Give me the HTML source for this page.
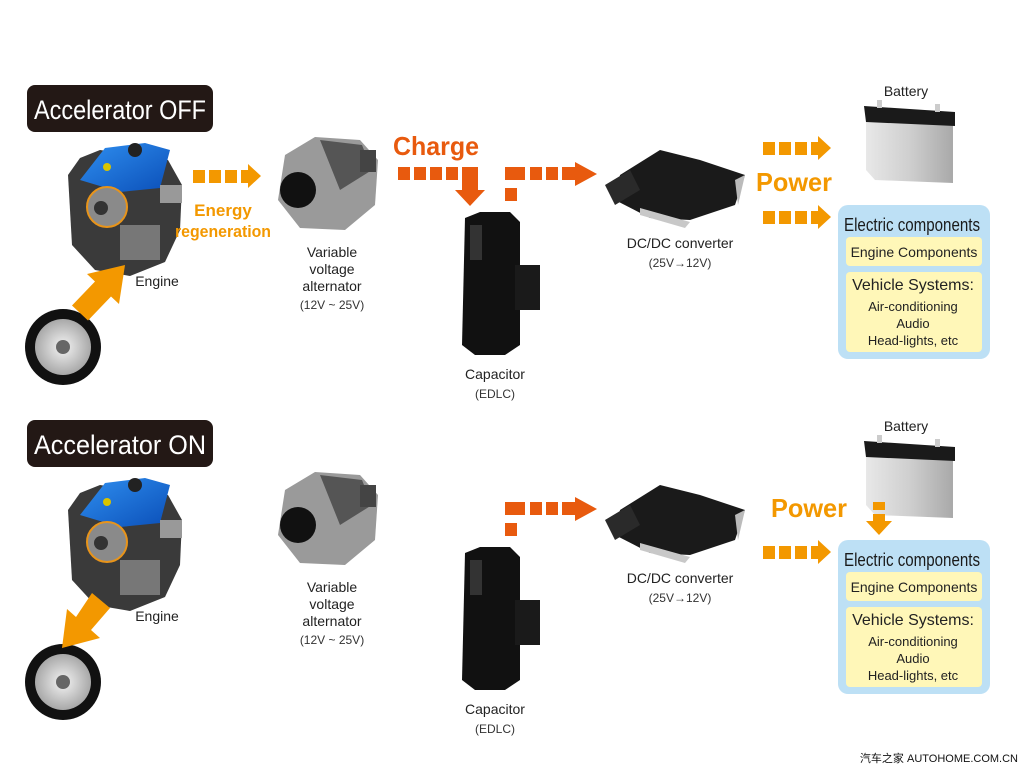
<!DOCTYPE html>
<html><head><meta charset="utf-8"><style>
html,body{margin:0;padding:0;background:#fff;width:1024px;height:768px;overflow:hidden}
svg{display:block}
text{font-family:"Liberation Sans","Noto Sans CJK SC",sans-serif}
</style></head><body>
<svg width="1024" height="768" viewBox="0 0 1024 768" xmlns="http://www.w3.org/2000/svg">
<defs>
<linearGradient id="blue" x1="0" y1="0" x2="1" y2="1"><stop offset="0" stop-color="#2f8ff0"/><stop offset="1" stop-color="#0b4fb8"/></linearGradient>
<linearGradient id="bat" x1="0" y1="0" x2="1" y2="0"><stop offset="0" stop-color="#e8e8e8"/><stop offset="0.5" stop-color="#cfcfcf"/><stop offset="1" stop-color="#a9a9a9"/></linearGradient>
<radialGradient id="rim"><stop offset="0" stop-color="#f4f4f4"/><stop offset="1" stop-color="#a8a8a8"/></radialGradient>
<g id="engine">
 <path d="M68 175 L80 158 L100 150 L168 160 L182 185 L180 230 L165 262 L130 276 L95 270 L72 245 Z" fill="#3a3a3a"/>
 <path d="M80 180 L105 148 L145 143 L170 150 L160 188 L120 192 Z" fill="url(#blue)"/>
 <circle cx="135" cy="150" r="7" fill="#222"/><circle cx="107" cy="167" r="4" fill="#d8c400"/>
 <circle cx="107" cy="207" r="20" fill="#8a8a8a" stroke="#e8941a" stroke-width="2"/>
 <circle cx="101" cy="208" r="7" fill="#333"/>
 <rect x="120" y="225" width="40" height="35" fill="#777"/>
 <rect x="160" y="185" width="22" height="18" fill="#999"/>
</g>
<g id="tire">
 <circle cx="63" cy="347" r="38" fill="#111"/>
 <circle cx="63" cy="347" r="28" fill="url(#rim)"/>
 <circle cx="63" cy="347" r="7" fill="#666"/>
</g>
<g id="alt">
 <path d="M285 155 L315 137 L360 140 L378 160 L375 205 L345 230 L300 228 L278 200 Z" fill="#9a9a9a"/>
 <path d="M320 140 L362 145 L372 170 L340 190 Z" fill="#555"/>
 <circle cx="298" cy="190" r="18" fill="#111"/>
 <rect x="360" y="150" width="16" height="22" fill="#444"/>
</g>
<g id="cap">
 <path d="M465 218 L480 212 L510 212 L520 222 L520 345 L505 355 L475 355 L462 345 Z" fill="#111"/>
 <rect x="515" y="265" width="25" height="45" fill="#1a1a1a"/>
 <rect x="470" y="225" width="12" height="35" fill="#333"/>
</g>
<g id="dcdc">
 <path d="M620 175 L660 150 L700 160 L745 175 L735 205 L690 220 L650 218 L615 200 Z" fill="#1a1a1a"/>
 <path d="M605 185 L630 170 L640 190 L615 205 Z" fill="#2a2a2a"/>
 <path d="M640 208 L690 222 L685 228 L640 215 Z" fill="#c8c8c8"/>
 <path d="M735 180 L745 175 L738 205 Z" fill="#bbb"/>
</g>
<g id="battery">
 <path d="M866 112 L953 118 L953 183 L875 180 L866 170 Z" fill="url(#bat)"/>
 <path d="M864 106 L955 112 L955 126 L866 122 Z" fill="#1a1a1a"/>
 <rect x="877" y="100" width="5" height="8" fill="#ccc"/><rect x="935" y="104" width="5" height="8" fill="#ccc"/>
</g>
<g id="ecomp">
 <rect x="838" y="205" width="152" height="154" rx="10" fill="#bde0f5"/>
 <text x="912" y="231" font-size="18" text-anchor="middle" fill="#1a1a1a" textLength="136" lengthAdjust="spacingAndGlyphs">Electric components</text>
 <rect x="846" y="237" width="136" height="29" rx="4" fill="#fff7b8"/>
 <text x="914" y="257" font-size="14" text-anchor="middle" fill="#222">Engine Components</text>
 <rect x="846" y="272" width="136" height="80" rx="4" fill="#fff7b8"/>
 <text x="913" y="290" font-size="16" text-anchor="middle" fill="#222">Vehicle Systems:</text>
 <text x="913" y="311" font-size="13" text-anchor="middle" fill="#222">Air-conditioning</text>
 <text x="913" y="328" font-size="13" text-anchor="middle" fill="#222">Audio</text>
 <text x="913" y="345" font-size="13" text-anchor="middle" fill="#222">Head-lights, etc</text>
</g>
<g id="dash" fill="#f39800">
 <rect x="0" y="-6" width="12" height="13"/><rect x="16" y="-6" width="12" height="13"/><rect x="32" y="-6" width="12" height="13"/>
 <path d="M48 -6 L55 -6 L55 -12 L68 0 L55 12 L55 7 L48 7 Z"/>
</g>
<g id="common">
 <use href="#engine"/>
 <use href="#alt"/>
 <use href="#cap"/>
 <use href="#dcdc"/>
 <use href="#battery"/>
 <use href="#ecomp"/>
 <text x="157" y="286" font-size="14" text-anchor="middle" fill="#222">Engine</text>
 <text x="332" y="257" font-size="14" text-anchor="middle" fill="#222">Variable</text>
 <text x="332" y="274" font-size="14" text-anchor="middle" fill="#222">voltage</text>
 <text x="332" y="291" font-size="14" text-anchor="middle" fill="#222">alternator</text>
 <text x="332" y="309" font-size="12" text-anchor="middle" fill="#333">(12V ~ 25V)</text>
 <text x="495" y="379" font-size="14" text-anchor="middle" fill="#222">Capacitor</text>
 <text x="495" y="398" font-size="12" text-anchor="middle" fill="#333">(EDLC)</text>
 <text x="680" y="248" font-size="14" text-anchor="middle" fill="#222">DC/DC converter</text>
 <text x="680" y="267" font-size="12" text-anchor="middle" fill="#333">(25V→12V)</text>
 <text x="906" y="96" font-size="14" text-anchor="middle" fill="#222">Battery</text>
 <g fill="#e85a0e">
  <rect x="505" y="188" width="12" height="13"/>
  <rect x="505" y="167" width="20" height="13"/>
  <rect x="530" y="167" width="12" height="13"/><rect x="546" y="167" width="12" height="13"/>
  <path d="M562 167 L575 167 L575 162 L597 174 L575 186 L575 180 L562 180 Z"/>
 </g>
</g>
</defs>

<!-- TOP -->
<rect x="27" y="85" width="186" height="47" rx="8" fill="#231815"/>
<text x="120" y="119" font-size="27" text-anchor="middle" fill="#fff" textLength="172" lengthAdjust="spacingAndGlyphs">Accelerator OFF</text>
<use href="#common"/>
<use href="#tire"/>
<polygon points="72,305.5 95,281.5 87,274 125,265 119,304 111,296.5 88,320.5" fill="#f39800"/>
<use href="#dash" x="193" y="176"/>
<text x="223" y="216" font-size="17" font-weight="bold" text-anchor="middle" fill="#f39800">Energy</text>
<text x="223" y="237" font-size="17" font-weight="bold" text-anchor="middle" fill="#f39800" textLength="96" lengthAdjust="spacingAndGlyphs">regeneration</text>
<text x="436" y="155" font-size="26" font-weight="bold" text-anchor="middle" fill="#e85a0e" textLength="86" lengthAdjust="spacingAndGlyphs">Charge</text>
<g fill="#e85a0e">
 <rect x="398" y="167" width="12" height="13"/><rect x="414" y="167" width="12" height="13"/><rect x="430" y="167" width="12" height="13"/><rect x="446" y="167" width="12" height="13"/>
 <path d="M462 167 L478 167 L478 190 L485 190 L470 206 L455 190 L462 190 Z"/>
</g>
<use href="#dash" x="763" y="148"/>
<use href="#dash" x="763" y="217"/>
<text x="794" y="191" font-size="26" font-weight="bold" text-anchor="middle" fill="#f39800" textLength="76" lengthAdjust="spacingAndGlyphs">Power</text>

<!-- BOTTOM -->
<rect x="27" y="420" width="186" height="47" rx="8" fill="#231815"/>
<text x="120" y="454" font-size="27" text-anchor="middle" fill="#fff" textLength="172" lengthAdjust="spacingAndGlyphs">Accelerator ON</text>
<g transform="translate(0,335)"><use href="#common"/><use href="#tire"/></g>
<polygon points="92,593 110,608 91,630 100,638 62,648 67,609 76,617" fill="#f39800"/>
<text x="809" y="517" font-size="26" font-weight="bold" text-anchor="middle" fill="#f39800" textLength="76" lengthAdjust="spacingAndGlyphs">Power</text>
<g fill="#f39800">
 <rect x="873" y="502" width="12" height="8"/>
 <path d="M873 514 L885 514 L885 521 L892 521 L879 535 L866 521 L873 521 Z"/>
</g>
<use href="#dash" x="763" y="552"/>

<text x="1018" y="762" font-size="11" text-anchor="end" fill="#111" font-family="Liberation Mono, Noto Sans CJK SC, monospace">汽车之家 AUTOHOME.COM.CN</text>
</svg>
</body></html>
